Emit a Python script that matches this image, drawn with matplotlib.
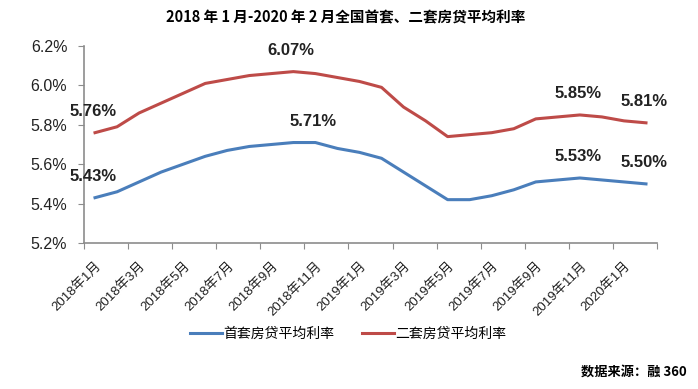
import matplotlib
matplotlib.use("Agg")
import matplotlib.pyplot as plt
import numpy as np

plt.rcParams['font.family'] = ['Liberation Sans', 'Noto Sans CJK SC', 'DejaVu Sans']

# 2018-01 .. 2020-02, monthly
months = [f"{y}年{m}月" for y in (2018, 2019) for m in range(1, 13)] + ["2020年1月", "2020年2月"]
first_home = [5.43, 5.46, 5.51, 5.56, 5.60, 5.64, 5.67, 5.69, 5.70, 5.71, 5.71, 5.68, 5.66,
              5.63, 5.56, 5.49, 5.42, 5.42, 5.44, 5.47, 5.51, 5.52, 5.53, 5.52, 5.51, 5.50]
second_home = [5.76, 5.79, 5.86, 5.91, 5.96, 6.01, 6.03, 6.05, 6.06, 6.07, 6.06, 6.04, 6.02,
               5.99, 5.89, 5.82, 5.74, 5.75, 5.76, 5.78, 5.83, 5.84, 5.85, 5.84, 5.82, 5.81]
yticks = [5.2, 5.4, 5.6, 5.8, 6.0, 6.2]
# indices of points with value labels
first_labels = [0, 10, 22, 25]
second_labels = [0, 9, 22, 25]

blue = '#4a7ebb'
red = '#be4b48'
axis_gray = '#8c8c8c'

fig = plt.figure(figsize=(6.98, 3.89), dpi=100)
ax = fig.add_axes([84 / 698, 1 - 243 / 389, 573 / 698, 197 / 389])

x = np.arange(len(months))
ax.plot(x, first_home, color=blue, lw=2.2, label='首套房贷平均利率', solid_joinstyle='round')
ax.plot(x, second_home, color=red, lw=2.2, label='二套房贷平均利率', solid_joinstyle='round')

for i in first_labels:
    ax.annotate(f"{first_home[i]:.2f}%", (x[i], first_home[i]), xytext=(-2, 21),
                textcoords='offset pixels', ha='center', va='center',
                fontsize=12, fontweight='bold', color='#222222')
for i in second_labels:
    ax.annotate(f"{second_home[i]:.2f}%", (x[i], second_home[i]), xytext=(-2, 21),
                textcoords='offset pixels', ha='center', va='center',
                fontsize=12, fontweight='bold', color='#222222')

ax.set_xlim(-0.5, len(months) - 0.5)
ax.set_ylim(5.2, 6.2)
ax.set_yticks(yticks)
ax.set_yticklabels([f"{v:.1f}%" for v in yticks], fontsize=11.5, color='#222222')

# category boundaries carry tick marks, labels sit on every other month
ax.set_xticks(np.arange(-0.5, len(months), 2))
ax.set_xticklabels([])
ax.set_xticks(x[::2], minor=True)
ax.set_xticklabels([months[i] for i in x[::2]], minor=True, rotation=45,
                   ha='right', va='top', rotation_mode='anchor', fontsize=9.5, color='#222222')
ax.tick_params(axis='x', which='major', length=4, color=axis_gray, direction='out')
ax.tick_params(axis='x', which='minor', length=0, pad=12)
ax.tick_params(axis='y', length=4, color=axis_gray, pad=8)

for side in ('top', 'right'):
    ax.spines[side].set_visible(False)
for side in ('left', 'bottom'):
    ax.spines[side].set_color(axis_gray)
    ax.spines[side].set_linewidth(1.2)

fig.text(346 / 698, 1 - 17 / 389, "2018 年 1 月-2020 年 2 月全国首套、二套房贷平均利率",
         ha='center', va='center', fontsize=10.5, fontweight='bold',
         family=['Noto Sans CJK SC', 'DejaVu Sans'])

fig.legend(loc='center', bbox_to_anchor=(348 / 698, 1 - 334 / 389), ncol=2, frameon=False,
           handlelength=2.3, handletextpad=0.1, columnspacing=2.0,
           prop={'family': ['Noto Sans CJK SC'], 'size': 10})

fig.text(687 / 698, 1 - 372 / 389, "数据来源：融 360", ha='right', va='center',
         fontsize=9.5, fontweight='bold', family=['Noto Sans CJK SC', 'DejaVu Sans'])

fig.savefig('out.png', dpi=100)
